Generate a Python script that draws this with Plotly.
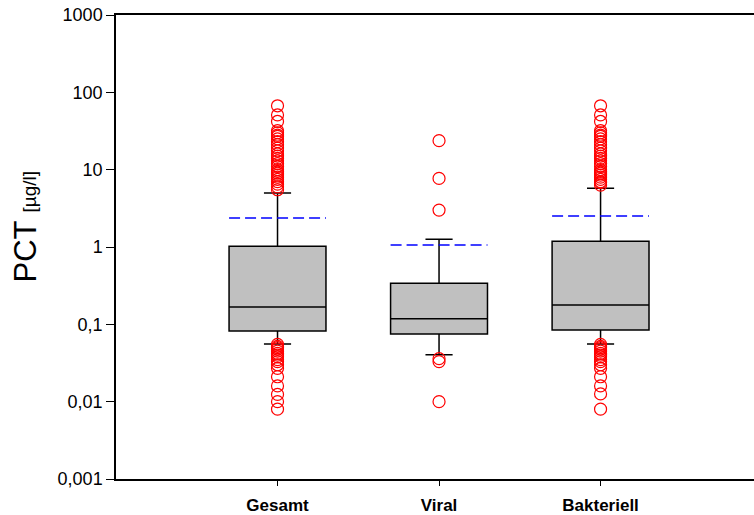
import plotly.graph_objects as go

# Groups and their x positions
categories = ["Gesamt", "Viral", "Bakteriell"]
positions = [1, 2, 3]

# Box statistics per group (µg/l)
q1 = [0.082, 0.075, 0.0845]
median = [0.167, 0.118, 0.178]
q3 = [1.02, 0.339, 1.19]
lower_fence = [0.0556, 0.0405, 0.0556]
upper_fence = [5.0, 1.26, 5.74]
means = [2.37, 1.06, 2.52]

# Outliers per group
outliers_gesamt = [67, 51, 42, 32, 30, 28, 27, 25, 23, 21, 19, 17.5, 16, 15, 14, 13,
                   12, 11, 10, 9.5, 9, 8.5, 8, 7.5, 7, 6.5, 6, 5.5,
                   0.055, 0.052, 0.05, 0.048, 0.045, 0.042, 0.04, 0.038, 0.035,
                   0.033, 0.03, 0.027, 0.021, 0.016, 0.0124, 0.01, 0.008]
outliers_viral = [23.7, 7.7, 3.0, 0.036, 0.033, 0.01]
outliers_bakteriell = [67, 51, 42, 32, 30, 28, 27, 25, 23, 21, 19, 17.5, 16, 15, 14,
                       13, 12, 11, 10, 9.5, 9, 8.5, 8, 7.5, 7, 6.8, 6.3,
                       0.055, 0.052, 0.05, 0.048, 0.045, 0.042, 0.04, 0.038, 0.035,
                       0.033, 0.03, 0.027, 0.021, 0.016, 0.0126, 0.008]
outliers = [outliers_gesamt, outliers_viral, outliers_bakteriell]

# Y-axis ticks
y_tickvals = [0.001, 0.01, 0.1, 1, 10, 100, 1000]
y_ticktext = ["0,001", "0,01", "0,1", "1", "10", "100", "1000"]

BOX_WIDTH = 0.6
FONT = "Liberation Sans, Arial, sans-serif"

fig = go.Figure()

fig.add_trace(go.Box(
    x=positions,
    q1=q1, median=median, q3=q3,
    lowerfence=lower_fence, upperfence=upper_fence,
    boxpoints=False,
    width=BOX_WIDTH,
    whiskerwidth=0.28,
    fillcolor="#c0c0c0",
    line=dict(color="black", width=1.5),
    showlegend=False,
    hoverinfo="skip",
))

# Mean as a dashed blue line across each box
mx, my = [], []
for p, m in zip(positions, means):
    mx += [p - BOX_WIDTH / 2, p + BOX_WIDTH / 2, None]
    my += [m, m, None]
fig.add_trace(go.Scatter(
    x=mx, y=my, mode="lines",
    line=dict(color="#0000ff", width=1.5, dash="11px,5px"),
    showlegend=False, hoverinfo="skip",
))

# Outliers as open red circles
for p, vals in zip(positions, outliers):
    fig.add_trace(go.Scatter(
        x=[p] * len(vals), y=vals, mode="markers",
        marker=dict(symbol="circle-open", size=12, color="red",
                    line=dict(color="red", width=1.2)),
        showlegend=False, hoverinfo="skip",
    ))

fig.update_layout(
    width=754, height=515,
    margin=dict(l=116, r=0, t=15, b=36),
    paper_bgcolor="white", plot_bgcolor="white",
    font=dict(family=FONT, color="black"),
    xaxis=dict(
        range=[0, 3.95],
        tickvals=positions, ticktext=categories,
        ticks="outside", ticklen=5, tickwidth=1.2, tickcolor="black",
        ticklabelstandoff=5,
        showline=True, linecolor="black", linewidth=1.5, mirror=True,
        showgrid=False, zeroline=False,
        tickfont=dict(size=17, weight="bold", family=FONT),
    ),
    yaxis=dict(
        type="log", range=[-3, 3],
        tickvals=y_tickvals, ticktext=y_ticktext,
        ticks="outside", ticklen=8, tickwidth=1.2, tickcolor="black",
        showline=True, linecolor="black", linewidth=1.5,
        showgrid=False, zeroline=False,
        tickfont=dict(size=18, family=FONT),
    ),
    annotations=[dict(
        text="PCT <span style='font-size:19px'>[µg/l]</span>",
        xref="paper", yref="paper",
        x=-0.142, y=0.545, xanchor="center", yanchor="middle",
        textangle=-90, showarrow=False,
        font=dict(size=31, family=FONT, color="black"),
    )],
)

fig.write_html("out.html")
